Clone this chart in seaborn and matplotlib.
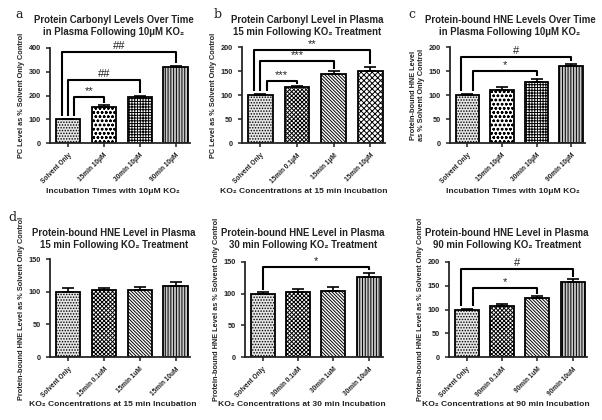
import numpy as np
import pandas as pd
import matplotlib
matplotlib.use('Agg')
import matplotlib.pyplot as plt
import seaborn as sns

# ---- data ----
a_labels = ['Solvent Only', '15min 10\u03bcM', '30min 10\u03bcM', '90min 10\u03bcM']
a_values = [100, 150, 195, 320]
a_errors = [2, 10, 4, 6]

b_labels = ['Solvent Only', '15min 0.1\u03bcM', '15min 1\u03bcM', '15min 10\u03bcM']
b_values = [100, 117, 144, 149]
b_errors = [2, 1, 5, 10]

c_labels = ['Solvent Only', '15min 10\u03bcM', '30min 10\u03bcM', '90min 10\u03bcM']
c_values = [100, 110, 127, 160]
c_errors = [3, 6, 7, 5]

d1_labels = ['Solvent Only', '15min 0.1uM', '15min 1uM', '15min 10uM']
d1_values = [100, 102, 102, 109]
d1_errors = [5, 4, 5, 6]

d2_labels = ['Solvent Only', '30min 0.1uM', '30min 1uM', '30min 10uM']
d2_values = [100, 102, 105, 126]
d2_errors = [2, 5, 6, 7]

d3_labels = ['Solvent Only', '90min 0.1uM', '90min 1uM', '90min 10uM']
d3_values = [100, 107, 124, 158]
d3_errors = [2, 5, 4, 6]

sns.set_theme(style='ticks')
plt.rcParams['font.family'] = ['Liberation Sans', 'DejaVu Sans']
plt.rcParams['hatch.linewidth'] = 0.7
plt.rcParams['hatch.color'] = '#1a1a1a'

W, H = 602, 420
TXT = '#222222'
KO2 = 'KO\u2082'
fig = plt.figure(figsize=(W / 100, H / 100), dpi=100)


def px_axes(x0, x1, y0, y1):
    # pixel box -> figure fraction
    return fig.add_axes([x0 / W, 1 - y1 / H, (x1 - x0) / W, (y1 - y0) / H])


def panel(ax, labels, values, errors, hatches, faces, ymax, yticks,
          title, title_xy, ylabel, xlabel, xlabel_xy, brackets):
    df = pd.DataFrame({'group': labels, 'value': values})
    sns.barplot(data=df, x='group', y='value', ax=ax, width=0.68,
                color='white', edgecolor='black', linewidth=1.3, errorbar=None)
    for bar, h, fc in zip(ax.patches, hatches, faces):
        bar.set_hatch(h)
        bar.set_facecolor(fc)
    ax.errorbar(range(len(values)), values, yerr=[np.zeros(len(errors)), errors],
                fmt='none', ecolor='black', elinewidth=1.2, capsize=4, capthick=1.2)
    ax.set_ylim(0, ymax)
    ax.set_xlim(-0.5, 3.4)
    ax.set_yticks(yticks)
    ax.tick_params(axis='both', width=1.1, length=3, labelsize=5.3, colors=TXT)
    for t in ax.get_yticklabels():
        t.set_fontweight('bold')
    ax.set_xticks(range(len(labels)))
    ax.set_xticklabels(labels, rotation=45, ha='right', rotation_mode='anchor',
                       fontsize=4.7, fontweight='bold')
    for s in ['left', 'bottom']:
        ax.spines[s].set_linewidth(1.3)
    sns.despine(ax=ax)
    ax.set_ylabel(ylabel, fontsize=5.3, fontweight='bold', labelpad=3, color=TXT)
    ax.set_xlabel('')
    fig.text(title_xy[0] / W, 1 - title_xy[1] / H, title, fontsize=6.9,
             fontweight='bold', ha='center', va='center', color=TXT,
             linespacing=1.25)
    fig.text(xlabel_xy[0] / W, 1 - xlabel_xy[1] / H, xlabel, fontsize=6.1,
             fontweight='bold', ha='center', va='center', color=TXT)
    # significance brackets; the higher the bracket, the further left its leg
    n = len(brackets)
    offs = np.linspace(-0.17, 0.17, n)[::-1] if n > 1 else [0.0]
    for (j, yb, mark), off in zip(brackets, offs):
        y0 = values[0] + errors[0] + ymax * 0.03
        y1 = values[j] + errors[j] + ymax * 0.025
        ax.plot([off, off, j, j], [y0, yb, yb, y1], color='black', lw=1.5,
                clip_on=False, solid_capstyle='butt')
        ax.text((off + j) / 2, yb + ymax * 0.01, mark, ha='center', va='bottom',
                fontsize=8, color=TXT)


solvent_face = '#e6e6e6'
gray_face = '#c8c8c8'
dots = '......'
vlines = '||||||'
diag = '\\' * 10

ax_a = px_axes(50, 190, 48, 143)
panel(ax_a, a_labels, a_values, a_errors,
      [dots, 'oooo', '++++++', vlines],
      [solvent_face, 'white', 'white', gray_face],
      400, [0, 100, 200, 300, 400],
      f'Protein Carbonyl Levels Over Time\nin Plasma Following 10\u03bcM {KO2}', (114, 26),
      'PC Level as % Solvent Only Control',
      f'Incubation Times with 10\u03bcM {KO2}', (113, 192),
      [(1, 195, '**'), (2, 265, '##'), (3, 385, '##')])

ax_b = px_axes(242, 385, 47, 143)
panel(ax_b, b_labels, b_values, b_errors,
      [dots, 'xxxxxxxx', diag, 'xxxxxx'],
      [solvent_face, 'white', 'white', 'white'],
      200, [0, 50, 100, 150, 200],
      f'Protein Carbonyl Level in Plasma\n15 min Following {KO2} Treatment', (307, 26),
      'PC Level as % Solvent Only Control',
      f'{KO2} Concentrations at 15 min Incubation', (304, 192),
      [(1, 130, '***'), (2, 171, '***'), (3, 193, '**')])

ax_c = px_axes(450, 585, 47, 143)
panel(ax_c, c_labels, c_values, c_errors,
      [dots, 'oooo', '++++++', vlines],
      [solvent_face, 'white', 'white', gray_face],
      200, [0, 50, 100, 150, 200],
      f'Protein-bound HNE Levels Over Time\nin Plasma Following 10\u03bcM {KO2}', (510, 26),
      'Protein-bound HNE Level\nas % Solvent Only Control',
      f'Incubation Times with 10\u03bcM {KO2}', (513, 192),
      [(2, 150, '*'), (3, 180, '#')])

ax_d1 = px_axes(50, 190, 259, 357)
panel(ax_d1, d1_labels, d1_values, d1_errors,
      [dots, 'xxxxxxxx', diag, vlines],
      [solvent_face, 'white', 'white', gray_face],
      150, [0, 50, 100, 150],
      f'Protein-bound HNE Level in Plasma\n15 min Following {KO2} Treatment', (114, 239),
      'Protein-bound HNE Level as % Solvent Only Control',
      f'{KO2} Concentrations at 15 min Incubation', (113, 405),
      [])

ax_d2 = px_axes(245, 383, 262, 357)
panel(ax_d2, d2_labels, d2_values, d2_errors,
      [dots, 'xxxxxxxx', diag, vlines],
      [solvent_face, 'white', 'white', gray_face],
      150, [0, 50, 100, 150],
      f'Protein-bound HNE Level in Plasma\n30 min Following {KO2} Treatment', (303, 239),
      'Protein-bound HNE Level as % Solvent Only Control',
      f'{KO2} Concentrations at 30 min Incubation', (302, 405),
      [(3, 142, '*')])

ax_d3 = px_axes(449, 587, 262, 357)
panel(ax_d3, d3_labels, d3_values, d3_errors,
      [dots, 'xxxxxxxx', diag, vlines],
      [solvent_face, 'white', 'white', gray_face],
      200, [0, 50, 100, 150, 200],
      f'Protein-bound HNE Level in Plasma\n90 min Following {KO2} Treatment', (507, 239),
      'Protein-bound HNE Level as % Solvent Only Control',
      f'{KO2} Concentrations at 90 min Incubation', (506, 405),
      [(2, 145, '*'), (3, 185, '#')])

# panel letters
for x, y, s in [(19, 15, 'a'), (218, 15, 'b'), (412, 15, 'c'), (12, 217, 'd')]:
    fig.text(x / W, 1 - y / H, s, fontsize=9, ha='center', va='center',
             family='DejaVu Serif', color=TXT)

fig.savefig('out.png', dpi=100)
